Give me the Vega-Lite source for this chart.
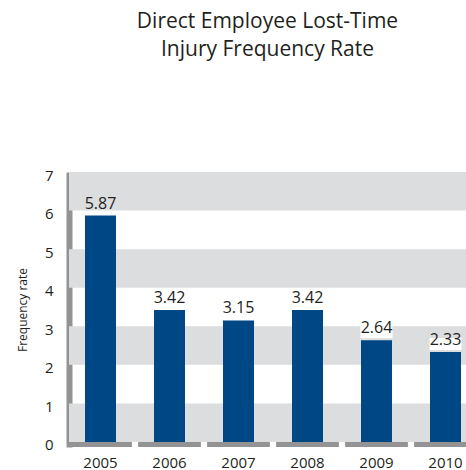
{
  "$schema": "https://vega.github.io/schema/vega-lite/v6.json",
  "width": 397,
  "height": 275,
  "autosize": {"type": "none"},
  "padding": {"left": 69, "top": 172, "right": 0, "bottom": 23},
  "background": "#ffffff",
  "config": {
    "view": {"stroke": null},
    "font": "Open Sans",
    "text": {"font": "Open Sans"},
    "axisY": {
      "titleFontSize": 12,
      "titleFontWeight": "normal",
      "titleColor": "#231f20",
      "titleFont": "Open Sans",
      "titlePadding": 15,
      "labelOverlap": false,
      "labelFlush": false,
      "grid": false,
      "ticks": false,
      "tickCount": 8,
      "domainColor": "#939393",
      "domainWidth": 6,
      "labelFontSize": 15,
      "labelColor": "#231f20",
      "labelPadding": 16,
      "labelOffset": 3,
      "labelFont": "Open Sans"
    },
    "axisX": {
      "domain": false,
      "ticks": false,
      "labelAngle": 0,
      "labelFontSize": 15,
      "labelColor": "#231f20",
      "labelPadding": 8,
      "labelFont": "Open Sans"
    }
  },
  "title": {
    "text": ["Direct Employee Lost-Time", "Injury Frequency Rate"],
    "fontSize": 21,
    "fontWeight": "normal",
    "font": "Open Sans",
    "color": "#231f20",
    "lineHeight": 28,
    "anchor": "middle",
    "frame": "group",
    "offset": 108
  },
  "datasets": {
    "rates": [
      {"year": "2005", "rate": 5.87},
      {"year": "2006", "rate": 3.42},
      {"year": "2007", "rate": 3.15},
      {"year": "2008", "rate": 3.42},
      {"year": "2009", "rate": 2.64},
      {"year": "2010", "rate": 2.33}
    ],
    "bands": [
      {"lo": 0, "hi": 1},
      {"lo": 2, "hi": 3},
      {"lo": 4, "hi": 5},
      {"lo": 6, "hi": 7}
    ]
  },
  "layer": [
    {
      "data": {"name": "bands"},
      "mark": {"type": "rect", "color": "#dcdddf"},
      "encoding": {
        "y": {
          "field": "lo",
          "type": "quantitative",
          "title": "Frequency rate",
          "scale": {"domain": [-0.13, 7], "nice": false, "zero": false},
          "axis": {"values": [0, 1, 2, 3, 4, 5, 6, 7], "labelOverlap": false}
        },
        "y2": {"field": "hi"}
      }
    },
    {
      "data": {"name": "rates"},
      "transform": [{"filter": {"field": "year", "oneOf": ["2009", "2010"]}}],
      "mark": {"type": "point", "filled": true, "color": "#ffffff", "opacity": 1, "shape": "M-1,-0.375H1V0.375H-1Z", "size": 1024, "yOffset": -8, "strokeWidth": 0},
      "encoding": {
        "x": {"field": "year", "type": "nominal"},
        "y": {"field": "rate", "type": "quantitative", "title": "Frequency rate"}
      }
    },
    {
      "data": {"name": "rates"},
      "mark": {"type": "bar", "color": "#004785", "width": 31},
      "encoding": {
        "x": {
          "field": "year",
          "type": "nominal",
          "title": null,
          "scale": {"range": [-3, 411], "paddingInner": 0, "paddingOuter": 0}
        },
        "y": {"field": "rate", "type": "quantitative", "title": "Frequency rate", "axis": {"values": [0, 1, 2, 3, 4, 5, 6, 7], "labelOverlap": false}},
        "y2": {"datum": 0}
      }
    },
    {
      "data": {"name": "rates"},
      "mark": {"type": "bar", "color": "#939393", "width": {"band": 0.91}, "clip": true},
      "encoding": {
        "x": {"field": "year", "type": "nominal", "title": null},
        "y": {"datum": -0.13},
        "y2": {"datum": 0}
      }
    },
    {
      "data": {"name": "rates"},
      "mark": {"type": "text", "fontSize": 16, "color": "#231f20", "baseline": "alphabetic", "dy": -7},
      "encoding": {
        "x": {"field": "year", "type": "nominal", "title": null},
        "y": {"field": "rate", "type": "quantitative", "title": "Frequency rate"},
        "text": {"field": "rate", "type": "quantitative", "format": ".2f"}
      }
    }
  ]
}
